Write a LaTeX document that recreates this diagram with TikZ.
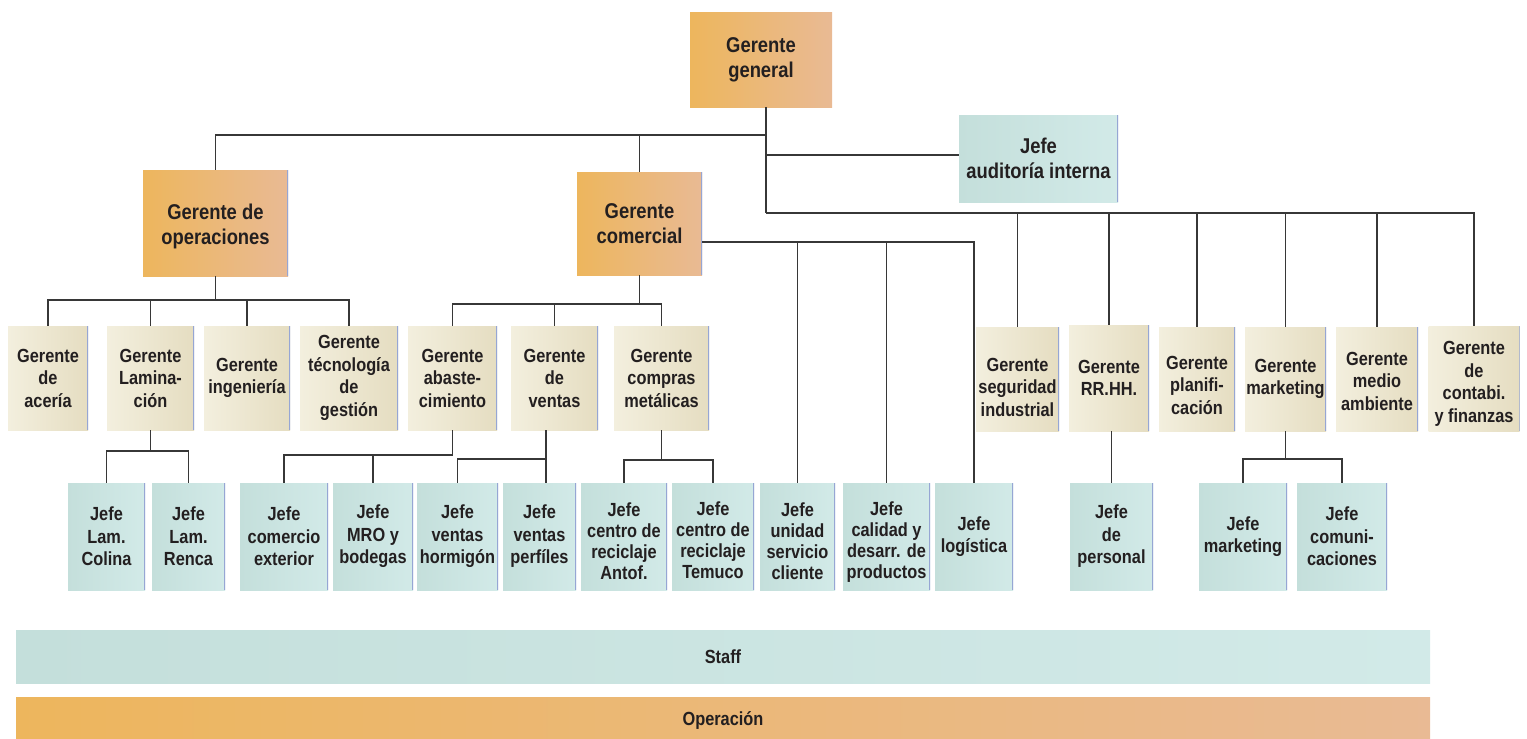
\documentclass[tikz,border=0pt]{standalone}
\usepackage{fontspec}
\setmainfont{Liberation Sans}[FakeStretch=0.86]

\definecolor{opL}{RGB}{237,182,93}
\definecolor{opR}{RGB}{233,186,148}
\definecolor{crL}{RGB}{243,239,222}
\definecolor{crR}{RGB}{229,221,193}
\definecolor{stL}{RGB}{196,223,219}
\definecolor{stR}{RGB}{210,234,232}
\definecolor{rimblue}{RGB}{150,166,212}
\definecolor{wirec}{RGB}{55,55,55}
\definecolor{inkc}{RGB}{35,31,32}

\newcommand{\topgap}[1]{\rule{0pt}{#1}}

\tikzset{
  nodebase/.style={inner sep=0pt, align=center, text=inkc,
    font=\bfseries\fontsize{9.5}{11.25}\selectfont},
  bigtext/.style={font=\bfseries\fontsize{10.7}{12.5}\selectfont},
  tighttext/.style={font=\bfseries\fontsize{9.5}{10.5}\selectfont},
  rim/.style={path picture={\draw[rimblue, line width=1pt]
    (path picture bounding box.north east) -- (path picture bounding box.south east);}},
  opbox/.style={nodebase, bigtext, left color=opL, right color=opR},
  gerbox/.style={nodebase, left color=crL, right color=crR, rim},
  jefbox/.style={nodebase, left color=stL, right color=stR, rim},
  sz/.style 2 args={minimum width=#1*0.5pt, minimum height=#2*0.5pt},
  link/.style={draw=wirec, line width=0.6pt}
}

\begin{document}
\begin{tikzpicture}[x=0.5pt, y=-0.5pt]
\useasboundingbox (0,0) rectangle (1527,739);

\node[opbox, sz={142}{95}] (gg) at (761,59.5) {Gerente\\general};
\node[jefbox, bigtext, sz={159}{87}] (aud) at (1038.5,158.5) {Jefe\\auditoría interna};
\node[opbox, rim, sz={145}{106}] (gop) at (215.5,223) {\topgap{11.5pt}Gerente de\\operaciones};
\node[opbox, rim, sz={125}{103}] (gcom) at (639.5,223.5) {Gerente\\comercial};

\node[gerbox, sz={80}{104}] (acer) at (48,378) {Gerente\\de\\acería};
\node[gerbox, sz={87}{104}] (lam) at (150.5,378) {Gerente\\Lamina-\\ción};
\node[gerbox, sz={86}{104}] (ing) at (247,378) {Gerente\\ingeniería};
\node[gerbox, sz={98}{104}] (tec) at (349,378) {Gerente\\técnología\\de\\gestión};
\node[gerbox, sz={89}{104}] (aba) at (452.5,378) {Gerente\\abaste-\\cimiento};
\node[gerbox, sz={87}{104}] (ven) at (554.5,378) {Gerente\\de\\ventas};
\node[gerbox, sz={95}{104}] (cmp) at (661.5,378) {Gerente\\compras\\metálicas};

\node[gerbox, sz={83}{104}] (seg) at (1017.5,379) {\topgap{15pt}Gerente\\seguridad\\industrial};
\node[gerbox, sz={80}{106}] (rrhh) at (1109,378) {Gerente\\RR.HH.};
\node[gerbox, sz={76}{104}] (pla) at (1197,379) {\topgap{13pt}Gerente\\planifi-\\cación};
\node[gerbox, sz={81}{104}] (mkt) at (1285.5,379) {Gerente\\marketing};
\node[gerbox, sz={82}{104}] (med) at (1377,379) {\topgap{9pt}Gerente\\medio\\ambiente};
\node[gerbox, sz={91}{105}] (con) at (1474,378.5) {\topgap{12pt}Gerente\\de\\contabi.\\y finanzas};

\node[jefbox, sz={77}{107}] (col) at (106.5,536.5) {Jefe\\Lam.\\Colina};
\node[jefbox, sz={73}{107}] (ren) at (188.5,536.5) {Jefe\\Lam.\\Renca};
\node[jefbox, sz={88}{107}] (cex) at (284,536.5) {Jefe\\comercio\\exterior};
\node[jefbox, sz={80}{107}] (mro) at (373,536.5) {Jefe\\MRO y\\bodegas};
\node[jefbox, sz={81}{107}] (hor) at (457.5,536.5) {Jefe\\ventas\\hormigón};
\node[jefbox, sz={73}{107}] (per) at (539.5,536.5) {Jefe\\ventas\\perfíles};
\node[jefbox, tighttext, sz={86}{107}] (ant) at (624,536.5) {\topgap{12pt}Jefe\\centro de\\reciclaje\\Antof.};
\node[jefbox, tighttext, sz={82}{107}] (tem) at (713,536.5) {\topgap{11pt}Jefe\\centro de\\reciclaje\\Temuco};
\node[jefbox, tighttext, sz={75}{107}] (usc) at (797.5,536.5) {\topgap{12pt}Jefe\\unidad\\servicio\\cliente};
\node[jefbox, tighttext, sz={87}{107}] (cal) at (886.5,536.5) {\topgap{12pt}Jefe\\calidad y\\desarr. de\\productos};
\node[jefbox, sz={78}{107}] (log) at (974,536.5) {Jefe\\logística};
\node[jefbox, sz={83}{107}] (jper) at (1111.5,536.5) {Jefe\\de\\personal};
\node[jefbox, sz={88}{107}] (jmkt) at (1243,536.5) {Jefe\\marketing};
\node[jefbox, sz={90}{107}] (jcom) at (1342,536.5) {Jefe\\comuni-\\caciones};

\node[nodebase, left color=stL, right color=stR, sz={1414}{53}] (staff) at (723,656.5) {Staff};
\node[nodebase, left color=opL, right color=opR, sz={1414}{46}] (oper) at (723,720) {Operación};

\coordinate (t1) at (766,135);
\coordinate (t2) at (766,155);
\coordinate (t3) at (766,213);
\draw[link] (gg.south -| t3) -- (t3);
\draw[link] (gop.north) |- (t1);
\draw[link] (gcom.north) |- (t1);
\draw[link] (t2) -- (t2 -| aud.west);
\foreach \n in {seg,rrhh,pla,mkt,med,con} \draw[link] (\n.north) |- (t3);

\coordinate (o1) at (215.5,300);
\draw[link] (gop.south) -- (o1);
\foreach \n in {acer,lam,ing,tec} \draw[link] (\n.north) |- (o1);

\coordinate (c1) at (639.5,304);
\draw[link] (gcom.south) -- (c1);
\foreach \n in {aba,ven,cmp} \draw[link] (\n.north) |- (c1);
\coordinate (c2) at (702,242);
\foreach \n in {usc,cal,log} \draw[link] (\n.north) |- (c2);

\coordinate (l1) at (150.5,451);
\draw[link] (lam.south) -- (l1);
\foreach \n in {col,ren} \draw[link] (\n.north) |- (l1);

\coordinate (a1) at (452.5,455);
\draw[link] (aba.south) -- (a1);
\foreach \n in {cex,mro} \draw[link] (\n.north) |- (a1);

\coordinate (v1) at (546,459);
\draw[link] (v1 |- ven.south) -- (v1 |- per.north);
\draw[link] (hor.north) |- (v1);

\coordinate (m1) at (661.5,460);
\draw[link] (cmp.south) -- (m1);
\foreach \n in {ant,tem} \draw[link] (\n.north) |- (m1);

\draw[link] (jper.north) -- (jper.north |- rrhh.south);

\coordinate (k1) at (1285.5,459);
\draw[link] (mkt.south) -- (k1);
\foreach \n in {jmkt,jcom} \draw[link] (\n.north) |- (k1);
\end{tikzpicture}
\end{document}
